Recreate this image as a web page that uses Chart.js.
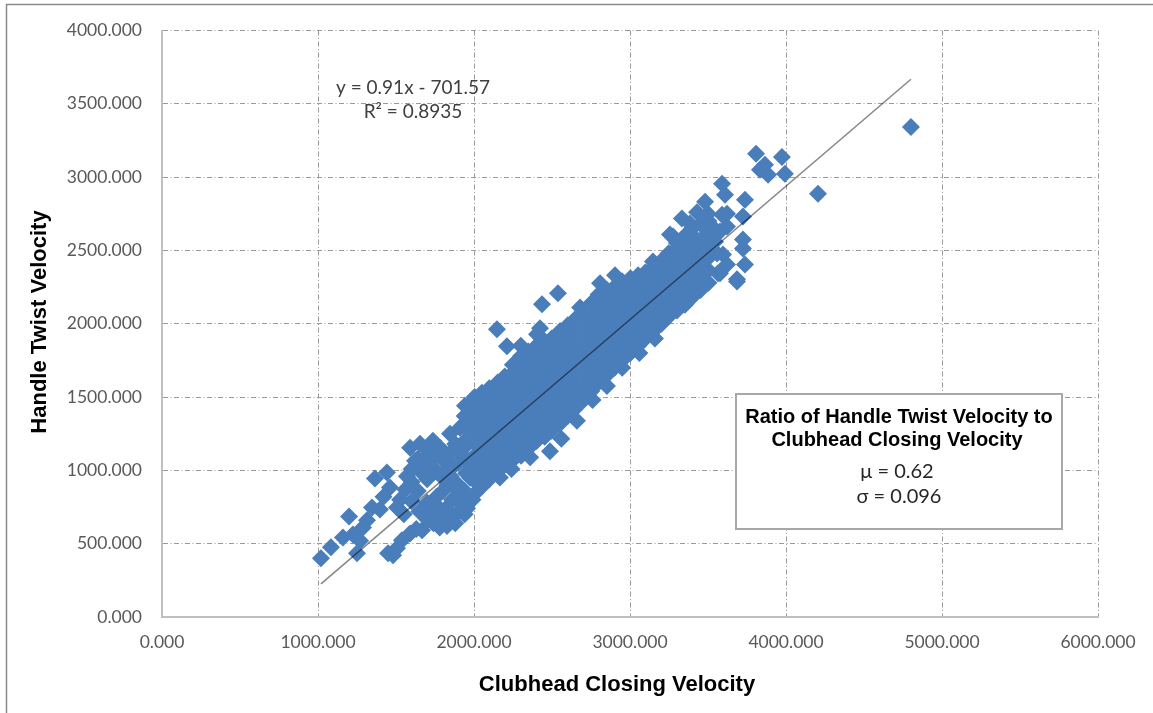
<!DOCTYPE html>
<html lang="en">
<head>
  <meta charset="UTF-8">
  <title>Handle Twist vs Clubhead Closing Velocity</title>
  <script src="https://cdn.jsdelivr.net/npm/chart.js"></script>
  <style>
    body { margin: 0; background: #fff; }
    #wrap { width: 1153px; height: 713px; }
  </style>
</head>
<body>
<div id="wrap"><canvas id="velChart" width="1153" height="713"></canvas></div>
<script>
  // swings: [clubhead closing velocity, handle twist velocity]
  const lowerTail = [
    [1019,400],[1083,475],[1160,543],[1199,686],[1224,563],[1250,435],[1270,520],[1288,611],
    [1314,659],[1346,747],[1365,944],[1397,733],[1420,820],[1442,985],[1461,883],[1449,435],[1481,421]
  ];
  const lowerBranch = [
    [1506,469],[1538,523],[1590,570],[1630,600],[1667,591],[1705,659],[1740,640],[1763,679],
    [1800,700],[1827,620],[1860,690],[1891,706],[1925,760],[1955,740],[1990,800],[1780,610],
    [1880,640],[1940,700],[1700,720],[1760,760],[1820,740]
  ];
  const midCluster = [
    [1506,747],[1526,800],[1560,870],[1570,960],[1600,920],[1622,1066],[1590,1154],[1654,1181],
    [1650,1000],[1690,1090],[1700,940],[1737,1202],[1730,1020],[1760,1110],[1782,1154],[1790,960],
    [1810,1060],[1846,1249],[1850,1120],[1880,1180],[1910,1290],[1940,1370],[1942,1440],[1970,1300],
    [1994,1385],[1960,1180],[1900,1050],[1850,960],[1800,860],[1760,820],[1700,780],[1650,720],
    [1900,900],[1950,980],[1990,1080],[1980,1460],[1600,1010],[1640,1080],[1680,1020],[1700,1140],
    [1720,1060],[1760,990],[1760,1160],[1800,1090],[1820,1000],[1870,1030],[1880,880],[1940,860],
    [1860,800],[1920,810],[1920,1110],[1950,1210],[1930,1310],[1960,1050],[1975,950],[1830,900],
    [1550,700],[1600,790],[1640,860]
  ];
  // dense band, one row per clubhead velocity column
  const bandColumns = [
    [2004,[840,930,1010,1100,1185,1270,1350,1440,1500]],
    [2051,[890,975,1065,1145,1235,1320,1400,1485,1530]],
    [2098,[940,1025,1110,1195,1280,1365,1450,1530,1560]],
    [2152,[990,1075,1160,1245,1330,1415,1500,1600]],
    [2197,[1040,1125,1210,1295,1380,1465,1550,1640]],
    [2249,[1070,1155,1240,1325,1410,1495,1580,1665,1720]],
    [2302,[1100,1185,1270,1355,1440,1525,1610,1695,1780]],
    [2348,[1150,1235,1320,1405,1490,1575,1660,1745,1810]],
    [2401,[1200,1285,1370,1455,1540,1625,1710,1795,1850]],
    [2453,[1230,1315,1400,1485,1570,1655,1740,1825,1880]],
    [2498,[1270,1355,1440,1525,1610,1695,1780,1865,1900]],
    [2552,[1320,1405,1490,1575,1660,1745,1830,1915,1950]],
    [2601,[1370,1455,1540,1625,1710,1795,1880,1965,1990]],
    [2648,[1420,1505,1590,1675,1760,1845,1930,2030]],
    [2703,[1480,1565,1650,1735,1820,1905,1990,2070]],
    [2751,[1540,1625,1710,1795,1880,1965,2050,2140]],
    [2799,[1600,1685,1770,1855,1940,2025,2110,2200]],
    [2852,[1650,1735,1820,1905,1990,2075,2160,2230]],
    [2901,[1700,1785,1870,1955,2040,2125,2210,2250]],
    [2949,[1750,1835,1920,2005,2090,2175,2260,2290]],
    [3003,[1800,1885,1970,2055,2140,2225,2310]],
    [3052,[1850,1935,2020,2105,2190,2275,2330]],
    [3098,[1900,1985,2070,2155,2240,2325,2350]],
    [3151,[1950,2035,2120,2205,2290,2375,2390]],
    [3202,[2000,2085,2170,2255,2340,2430]],
    [3248,[2050,2135,2220,2305,2390,2480]],
    [3301,[2090,2175,2260,2345,2430,2515,2550]],
    [3352,[2130,2215,2300,2385,2470,2555,2600]],
    [3398,[2180,2265,2350,2435,2520,2605,2650]],
    [3452,[2230,2315,2400,2485,2570,2680]],
    [3503,[2280,2365,2450,2535,2620,2700]]
  ];
  const upperOutliers = [
    [2147,1963],[2211,1847],[2404,1929],[2423,1970],[2436,2133],[2538,2208],[2808,2276],
    [2904,2330],[3147,2425],[2300,1850],[2680,2110]
  ];
  const lowerOutliers = [
    [2487,1130],[2560,1215],[2660,1338],[2852,1576],[2760,1480],[2950,1700],[3060,1800],
    [3160,1900],[2240,1010],[2360,1090],[2166,951]
  ];
  const upperTail = [
    [3256,2608],[3276,2595],[3333,2717],[3384,2683],[3384,2581],[3449,2507],[3481,2832],[3526,2663],
    [3545,2560],[3558,2479],[3577,2629],[3590,2955],[3590,2744],[3596,2472],[3609,2880],[3622,2751],
    [3622,2663],[3622,2404],[3564,2344],[3577,2344],[3686,2289],[3686,2303],[3724,2731],[3724,2574],
    [3724,2513],[3737,2846],[3737,2404],[3462,2310],[3340,2133],[3808,3159],[3833,3050],[3865,3084],
    [3885,3016],[3974,3138],[3993,3023],[4205,2887],[4801,3342],[3500,2750],[3430,2760]
  ];

  const trendSlope = 0.91;
  const trendIntercept = -701.57;
  const xTicks = [0, 1000, 2000, 3000, 4000, 5000, 6000];
  const yTicks = [0, 500, 1000, 1500, 2000, 2500, 3000, 3500, 4000];

  const points = [];
  [lowerTail, lowerBranch, midCluster, upperOutliers, lowerOutliers, upperTail].forEach(g => {
    g.forEach(p => points.push({ x: p[0], y: p[1] }));
  });
  bandColumns.forEach(col => col[1].forEach(y => points.push({ x: col[0], y: y })));

  const xs = points.map(p => p.x);
  const xMin = Math.min(...xs), xMax = Math.max(...xs);
  const trend = [
    { x: xMin, y: trendSlope * xMin + trendIntercept },
    { x: xMax, y: trendSlope * xMax + trendIntercept }
  ];

  const tickFont = { family: 'Lato', size: 17.5 };
  const gridDash = [5, 2.5, 1, 2.5];

  // frame, axis titles, trendline label and the stats box
  const decorations = {
    id: 'decorations',
    afterDraw(chart) {
      const ctx = chart.ctx;
      ctx.save();
      ctx.strokeStyle = '#8a8a8a';
      ctx.lineWidth = 1.5;
      ctx.strokeRect(6.5, 4.5, 1160, 720);

      ctx.fillStyle = '#000';
      ctx.font = 'bold 22px "Liberation Sans", Arial';
      ctx.textAlign = 'center';
      ctx.textBaseline = 'middle';
      ctx.fillText('Clubhead Closing Velocity', 617, 685);
      ctx.save();
      ctx.translate(40, 322);
      ctx.rotate(-Math.PI / 2);
      ctx.fillText('Handle Twist Velocity', 0, 0);
      ctx.restore();

      ctx.fillStyle = '#404040';
      ctx.font = '19px Lato';
      ctx.fillText('y = 0.91x - 701.57', 413, 88);
      ctx.fillText('R\u00b2 = 0.8935', 413, 112);

      ctx.fillStyle = '#fff';
      ctx.fillRect(736, 394, 326, 135);
      ctx.strokeStyle = '#a8a8a8';
      ctx.lineWidth = 2;
      ctx.strokeRect(736, 394, 326, 135);
      ctx.fillStyle = '#000';
      ctx.font = 'bold 20px "Liberation Sans", Arial';
      ctx.fillText('Ratio of Handle Twist Velocity to', 899, 417);
      ctx.fillText('Clubhead Closing Velocity', 897, 440);
      ctx.fillStyle = '#262626';
      ctx.font = '20px Lato';
      ctx.fillText('\u03bc = 0.62', 897, 472);
      ctx.fillText('\u03c3 = 0.096', 899, 497);
      ctx.restore();
    }
  };

  new Chart(document.getElementById('velChart'), {
    type: 'scatter',
    data: {
      datasets: [
        {
          label: 'Trendline',
          data: trend,
          showLine: true,
          pointRadius: 0,
          borderColor: 'rgba(0,0,0,0.48)',
          borderWidth: 1.5,
          order: 0
        },
        {
          label: 'Swings',
          data: points,
          pointStyle: 'rectRot',
          pointRadius: 9,
          pointHoverRadius: 9,
          pointBorderWidth: 0,
          backgroundColor: '#4a7ebb',
          borderColor: '#4a7ebb',
          order: 1
        }
      ]
    },
    plugins: [decorations],
    options: {
      responsive: false,
      animation: false,
      layout: { padding: { top: 28, right: 55, left: 0, bottom: 0 } },
      plugins: { legend: { display: false }, tooltip: { enabled: false } },
      scales: {
        x: {
          type: 'linear',
          min: 0,
          max: 6000,
          afterBuildTicks: s => { s.ticks = xTicks.map(v => ({ value: v })); },
          afterFit: s => { s.height = 96; },
          ticks: { font: tickFont, color: '#595959', padding: 15, maxRotation: 0,
                   callback: v => v.toFixed(3) },
          grid: { color: '#9a9a9a', lineWidth: 1, drawTicks: false },
          border: { display: true, color: '#bfbfbf', width: 2, dash: gridDash }
        },
        y: {
          type: 'linear',
          min: 0,
          max: 4000,
          afterBuildTicks: s => { s.ticks = yTicks.map(v => ({ value: v })); },
          afterFit: s => { s.width = 162; },
          ticks: { font: tickFont, color: '#595959', padding: 20,
                   callback: v => v.toFixed(3) },
          grid: { color: '#9a9a9a', lineWidth: 1, drawTicks: false },
          border: { display: true, color: '#bfbfbf', width: 2, dash: gridDash }
        }
      }
    }
  });
</script>
</body>
</html>
